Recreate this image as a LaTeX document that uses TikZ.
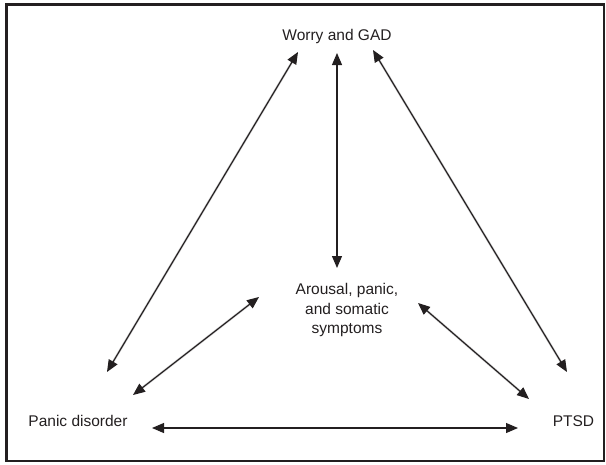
\documentclass[tikz,border=0pt]{standalone}
\usepackage{fontspec}
\setmainfont{Liberation Sans}
\usetikzlibrary{arrows.meta}
\definecolor{ink}{HTML}{231F20}
\tikzset{
  lbl/.style={inner sep=0pt, text=ink, font=\fontsize{15.5}{19.5}\selectfont, align=center},
  arr/.style={draw=ink, line width=1.1pt, {Triangle[length=12pt,width=10pt]}-{Triangle[length=12pt,width=10pt]}},
  shad/.style={draw=black!22, line width=2.2pt, line cap=round, shorten <=4pt, shorten >=4pt},
}
\begin{document}
\begin{tikzpicture}[x=1pt,y=-1pt]
\useasboundingbox (0,0) rectangle (606,464);
\draw[draw=ink, line width=2.6pt] (6.5,4.5) rectangle (604,461);

\node[lbl, anchor=base] (worry) at (337,40.5) {Worry and GAD};
\node[lbl] (arousal) at (347,310) {Arousal, panic,\\and somatic\\symptoms};
\node[lbl, anchor=base] (panic) at (78,426) {Panic disorder};
\node[lbl, anchor=base] (ptsd) at (573.5,426) {PTSD};

\coordinate (wp) at (298,52);   \coordinate (pw) at (107,372);
\coordinate (wa) at (337,53);   \coordinate (aw) at (337,268);
\coordinate (wt) at (373,50);   \coordinate (tw) at (567,372);
\coordinate (ap) at (259,297);  \coordinate (pa) at (133,395);
\coordinate (at) at (418,303);  \coordinate (ta) at (529,399);
\coordinate (pt) at (152,428);  \coordinate (tp) at (518,428);

\begin{scope}[shift={(1.5,2)}]
\foreach \a/\b in {wp/pw,wa/aw,wt/tw,ap/pa,at/ta,pt/tp}
  \draw[shad] (\a) -- (\b);
\end{scope}
\foreach \a/\b in {wp/pw,wa/aw,wt/tw,ap/pa,at/ta,pt/tp}
  \draw[arr] (\a) -- (\b);
\end{tikzpicture}
\end{document}
